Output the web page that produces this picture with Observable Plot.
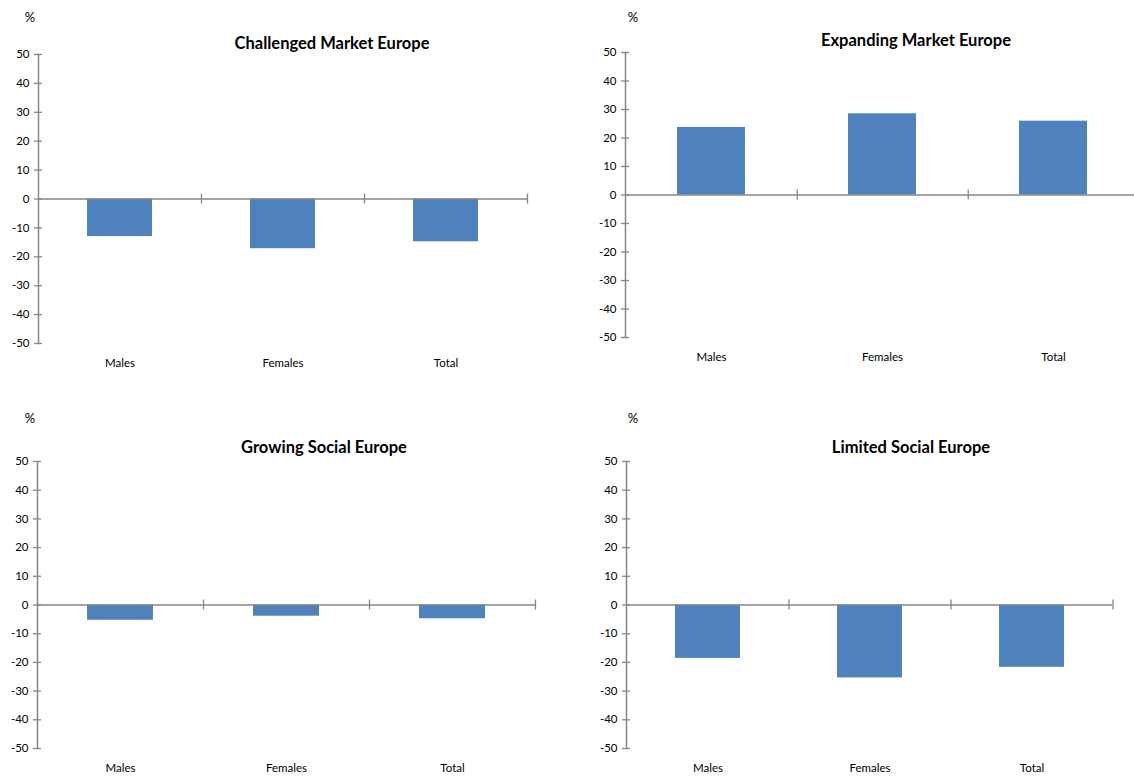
<!DOCTYPE html>
<html>
<head>
<meta charset="utf-8">
<script src="https://cdn.jsdelivr.net/npm/d3@7"></script>
<script src="https://cdn.jsdelivr.net/npm/@observablehq/plot@0.6"></script>
<style>
  html, body { margin: 0; padding: 0; background: #fff; overflow: hidden; width: 1134px; height: 780px; }
  body { position: relative; font-family: Lato, "Open Sans", sans-serif; }
  .panel { position: absolute; }
  .panel svg { max-width: none !important; display: block; }
  .title { position: absolute; font-weight: bold; font-size: 16.5px; color: #000; transform: translate(-50%, -50%); white-space: nowrap; }
  .unit { position: absolute; font-size: 13px; color: #000; transform: translate(-50%, -50%); }
</style>
</head>
<body>
<div id="root"></div>
<script>
const categories = ["Males", "Females", "Total"];
const yTicks = [-50, -40, -30, -20, -10, 0, 10, 20, 30, 40, 50];
const panelTitles = ["Challenged Market Europe", "Expanding Market Europe", "Growing Social Europe", "Limited Social Europe"];
const challengedValues = [-13.0, -17.2, -14.8];
const expandingValues = [23.7, 28.5, 25.9];
const growingValues = [-5.3, -3.9, -4.8];
const limitedValues = [-18.6, -25.4, -21.7];
const unitLabel = "%";

const seriesList = [challengedValues, expandingValues, growingValues, limitedValues];

// layout of each panel (page pixels)
const layouts = [
  {left: 0,   top: 0,   width: 560, height: 390, mL: 38, mT: 54, mB: 47, mR: 33, titleX: 332, titleY: 43, unitX: 30,  unitY: 17},
  {left: 570, top: 0,   width: 580, height: 390, mL: 55, mT: 52, mB: 53, mR: 10.5, titleX: 916, titleY: 40, unitX: 633, unitY: 17},
  {left: 0,   top: 400, width: 560, height: 390, mL: 37, mT: 61, mB: 42, mR: 25, titleX: 324, titleY: 447, unitX: 30,  unitY: 418},
  {left: 570, top: 400, width: 560, height: 390, mL: 56, mT: 61, mB: 42, mR: 18, titleX: 911, titleY: 447, unitX: 633, unitY: 418}
];

const axisGray = "#868686";
const barColor = "#4F81BD";
const root = document.getElementById("root");

seriesList.forEach((values, k) => {
  const L = layouts[k];
  const data = categories.map((c, i) => ({cat: c, value: values[i]}));
  const plotW = L.width - L.mL - L.mR;
  const step = plotW / categories.length;

  const chart = Plot.plot({
    width: L.width,
    height: L.height,
    marginLeft: L.mL,
    marginTop: L.mT,
    marginBottom: L.mB,
    marginRight: L.mR,
    style: {fontFamily: "Lato, 'Open Sans', sans-serif", fontSize: "11.5px", color: "#000", background: "transparent", overflow: "visible"},
    x: {domain: categories, paddingInner: 0.6, paddingOuter: 0.3},
    y: {domain: [-50, 50]},
    marks: [
      Plot.barY(data, {x: "cat", y: "value", fill: barColor}),
      Plot.frame({anchor: "left", stroke: axisGray, strokeWidth: 1.5}),
      Plot.ruleY(yTicks, {y: d => d, stroke: axisGray, strokeWidth: 1.3, insetLeft: -4, insetRight: plotW - 4}),
      Plot.ruleY([0], {stroke: axisGray, strokeWidth: 1.6}),
      Plot.ruleX(categories, {x: d => d, dx: step / 2, y1: 0, y2: 0, insetTop: -5, insetBottom: -5, stroke: axisGray, strokeWidth: 1.3}),
      Plot.axisY({ticks: yTicks, tickSize: 0, tickPadding: 9, label: null, tickFormat: d => String(d)}),
      Plot.axisX({tickSize: 0, tickPadding: 15, label: null})
    ]
  });

  const div = document.createElement("div");
  div.className = "panel";
  div.style.left = L.left + "px";
  div.style.top = L.top + "px";
  div.style.width = L.width + "px";
  div.style.height = L.height + "px";
  div.appendChild(chart);
  root.appendChild(div);

  const t = document.createElement("div");
  t.className = "title";
  t.style.left = L.titleX + "px";
  t.style.top = L.titleY + "px";
  t.textContent = panelTitles[k];
  root.appendChild(t);

  const u = document.createElement("div");
  u.className = "unit";
  u.style.left = L.unitX + "px";
  u.style.top = L.unitY + "px";
  u.textContent = unitLabel;
  root.appendChild(u);
});
</script>
</body>
</html>
